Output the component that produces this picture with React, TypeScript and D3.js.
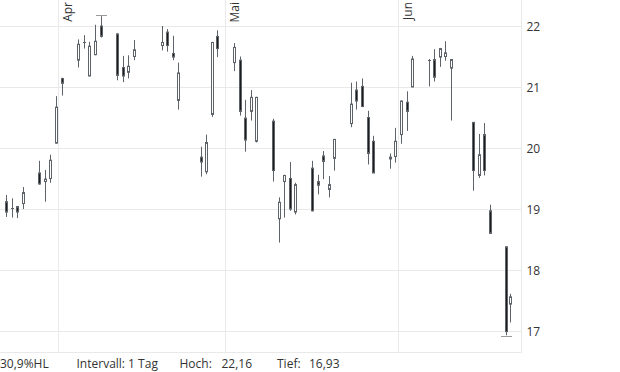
import React from "react";
import * as d3 from "d3";

const dates = [
  "2022-03-22T12:00Z","2022-03-23T12:00Z","2022-03-24T12:00Z","2022-03-25T12:00Z",
  "2022-03-28T12:00Z","2022-03-29T12:00Z","2022-03-30T12:00Z","2022-03-31T12:00Z","2022-04-01T12:00Z",
  "2022-04-04T12:00Z","2022-04-05T12:00Z","2022-04-06T12:00Z","2022-04-07T12:00Z","2022-04-08T12:00Z",
  "2022-04-11T12:00Z","2022-04-12T12:00Z","2022-04-13T12:00Z","2022-04-14T12:00Z",
  "2022-04-19T12:00Z","2022-04-20T12:00Z","2022-04-21T12:00Z","2022-04-22T12:00Z",
  "2022-04-26T12:00Z","2022-04-27T12:00Z","2022-04-28T12:00Z","2022-04-29T12:00Z",
  "2022-05-02T12:00Z","2022-05-03T12:00Z","2022-05-04T12:00Z","2022-05-05T12:00Z","2022-05-06T12:00Z",
  "2022-05-09T12:00Z","2022-05-10T12:00Z","2022-05-11T12:00Z","2022-05-12T12:00Z","2022-05-13T12:00Z",
  "2022-05-16T12:00Z","2022-05-17T12:00Z","2022-05-18T12:00Z","2022-05-19T12:00Z","2022-05-20T12:00Z",
  "2022-05-23T12:00Z","2022-05-24T12:00Z","2022-05-25T12:00Z","2022-05-26T12:00Z","2022-05-27T12:00Z",
  "2022-05-30T12:00Z","2022-05-31T12:00Z","2022-06-01T12:00Z","2022-06-02T12:00Z","2022-06-03T12:00Z",
  "2022-06-06T12:00Z","2022-06-07T12:00Z","2022-06-08T12:00Z","2022-06-09T12:00Z","2022-06-10T12:00Z",
  "2022-06-14T12:00Z","2022-06-15T12:00Z","2022-06-16T12:00Z","2022-06-17T12:00Z",
  "2022-06-20T09:00Z","2022-06-21T03:00Z",
];

const opens = [
  19.12, 19.0, 19.04, 19.09,
  19.59, 19.45, 19.5, 20.08, 21.14,
  21.44, 21.72, 21.18, 21.53, 22.0,
  21.87, 21.32, 21.24, 21.5,
  21.68, 21.9, 21.55, 20.78,
  19.85, 19.61, 20.55, 21.83,
  21.4, 21.44, 20.49, 20.6, 20.11,
  20.44, 18.84, 19.45, 19.5, 18.95,
  19.67, 19.45, 19.87, 19.32, 19.83,
  20.4, 20.95, 21.01, 20.5, 20.11,
  19.82, 19.86, 20.22, 20.75, 21.0,
  21.44, 21.45, 21.49, 21.5, 21.31,
  20.42, 19.55, 20.22, 18.97,
  18.38, 17.44,
];
const highs = [
  19.23, 19.175, 19.05, 19.36,
  19.79, 19.64, 19.89, 20.85, 21.15,
  21.78, 21.85, 21.74, 22.02, 22.16,
  21.88, 21.51, 21.52, 21.77,
  22.0, 21.95, 21.84, 21.4,
  20.02, 20.22, 21.74, 21.93,
  21.72, 21.5, 20.79, 20.95, 20.84,
  20.48, 19.19, 19.56, 19.77, 19.43,
  19.79, 19.56, 19.95, 19.54, 20.15,
  21.07, 21.09, 21.14, 20.61, 20.2,
  19.91, 20.33, 20.78, 20.93, 21.51,
  21.46, 21.62, 21.64, 21.75, 21.46,
  20.42, 20.23, 20.41, 19.07,
  18.39, 17.61,
];
const lows = [
  18.87, 18.86, 18.85, 19.0,
  19.4, 19.12, 19.43, 20.07, 20.86,
  21.32, 21.63, 21.18, 21.52, 21.81,
  21.11, 21.08, 21.14, 21.44,
  21.6, 21.58, 21.44, 20.63,
  19.53, 19.57, 20.51, 21.49,
  21.26, 20.53, 19.94, 20.45, 20.09,
  19.45, 18.45, 18.86, 18.97, 18.91,
  18.96, 19.24, 19.49, 19.19, 19.63,
  20.34, 20.63, 20.67, 19.73, 19.59,
  19.66, 19.76, 20.07, 20.28, 21.0,
  21.01, 21.09, 21.33, 21.43, 20.45,
  19.3, 19.51, 19.55, 18.6,
  16.93, 17.14,
];
const closes = [
  18.95, 19.01, 18.95, 19.27,
  19.41, 19.49, 19.8, 20.67, 21.06,
  21.7, 21.73, 21.67, 21.75, 21.83,
  21.19, 21.18, 21.34, 21.61,
  21.73, 21.68, 21.49, 21.23,
  19.77, 20.09, 21.73, 21.63,
  21.65, 20.6, 20.13, 20.83, 20.83,
  19.63, 19.11, 19.55, 19.0, 19.4,
  18.97, 19.39, 19.78, 19.4, 20.14,
  20.72, 20.77, 20.68, 19.91, 19.59,
  19.85, 20.11, 20.77, 20.6, 21.46,
  21.45, 21.16, 21.63, 21.56, 21.45,
  19.63, 19.89, 19.63, 18.6,
  16.99, 17.56,
];

const yTicks = [17, 18, 19, 20, 21, 22];
const yTickLabels = ["17", "18", "19", "20", "21", "22"];
const monthDates = ["2022-04-01T00:00Z", "2022-05-01T00:00Z", "2022-06-01T00:00Z"];
const monthLabels = ["Apr", "Mai", "Jun"];
const footerTexts = ["30,9%HL", "Intervall: 1 Tag", "Hoch:", "22,16", "Tief:", "16,93"];
const footerX = [0, 76.5, 179.5, 221.5, 277, 309];

const W = 620;
const H = 372;
const PW = 522;
const PH = 352;

const GRID = "#e9e9e9";
const CANDLE = "#5d6369";
const DARK = "#1c1c1c";
const TEXT = "#333333";
const FONT = "'Open Sans', 'Noto Sans', sans-serif";

export default function App() {
  const x = d3
    .scaleUtc()
    .domain([new Date("2022-04-01T00:00Z"), new Date("2022-06-01T00:00Z")])
    .range([59.3, 398.7]);
  const y = d3.scaleLinear().domain([17, 22]).range([331, 26]);

  const candles = dates.map((d, i) => ({
    date: new Date(d),
    o: opens[i],
    h: highs[i],
    l: lows[i],
    c: closes[i],
  }));

  const maxIdx = d3.maxIndex(candles, (c) => c.h);
  const minIdx = d3.minIndex(candles, (c) => c.l);

  return (
    <svg
      width={W}
      height={H}
      style={{ position: "absolute", left: 0, top: 0, background: "#fff" }}
      fontFamily={FONT}
    >
      <defs>
        <clipPath id="plot">
          <rect x={0} y={0} width={PW} height={PH} />
        </clipPath>
      </defs>
      {yTicks.map((t) => (
        <line
          key={"h" + t}
          x1={0}
          x2={PW}
          y1={Math.round(y(t)) + 0.5}
          y2={Math.round(y(t)) + 0.5}
          stroke={GRID}
        />
      ))}
      {monthDates.map((m, i) => {
        const xx = Math.round(x(new Date(m))) - 0.5;
        return (
          <g key={"m" + i}>
            <line x1={xx} x2={xx} y1={0} y2={PH} stroke={GRID} />
            <text
              transform={`translate(${xx + 13.5},2) rotate(-90)`}
              textAnchor="end"
              fontSize={12}
              fill={TEXT}
            >
              {monthLabels[i]}
            </text>
          </g>
        );
      })}
      <line x1={PW - 0.5} x2={PW - 0.5} y1={0} y2={PH} stroke={GRID} />
      <line x1={0} x2={PW} y1={PH + 0.5} y2={PH + 0.5} stroke={GRID} />
      {yTicks.map((t, i) => (
        <text
          key={"yl" + t}
          x={526.5}
          y={y(t) + 4.5}
          fontSize={12}
          fill={TEXT}
        >
          {yTickLabels[i]}
        </text>
      ))}
      <g clipPath="url(#plot)">
        {candles.map((c, i) => {
          const cx = Math.floor(x(c.date)) + 0.5;
          const top = y(Math.max(c.o, c.c));
          const bot = y(Math.min(c.o, c.c));
          const up = c.c >= c.o;
          const doji = bot - top < 1.2;
          return (
            <g key={i}>
              <line
                x1={cx}
                x2={cx}
                y1={y(c.h)}
                y2={y(c.l)}
                stroke={CANDLE}
                strokeWidth={1}
              />
              {doji ? (
                <line
                  x1={cx - 1.5}
                  x2={cx + 1.5}
                  y1={Math.round(top) + 0.5}
                  y2={Math.round(top) + 0.5}
                  stroke={CANDLE}
                />
              ) : (
                <rect
                  x={cx - 1}
                  y={top}
                  width={2}
                  height={bot - top}
                  fill={up ? "#ffffff" : DARK}
                  stroke={CANDLE}
                  strokeWidth={1}
                />
              )}
            </g>
          );
        })}
        {[
          { i: maxIdx, v: candles[maxIdx].h },
          { i: minIdx, v: candles[minIdx].l },
        ].map((m, k) => {
          const cx = Math.floor(x(candles[m.i].date)) + 0.5;
          const yy = Math.round(y(m.v)) + (k === 0 ? -0.5 : 1.5);
          return (
            <line
              key={"mk" + k}
              x1={cx - 5.5}
              x2={cx + 5.5}
              y1={yy}
              y2={yy}
              stroke="#9a9a9a"
            />
          );
        })}
      </g>
      {footerTexts.map((t, i) => (
        <text key={"f" + i} x={footerX[i]} y={367.5} fontSize={12} fill={TEXT}>
          {t}
        </text>
      ))}
    </svg>
  );
}
